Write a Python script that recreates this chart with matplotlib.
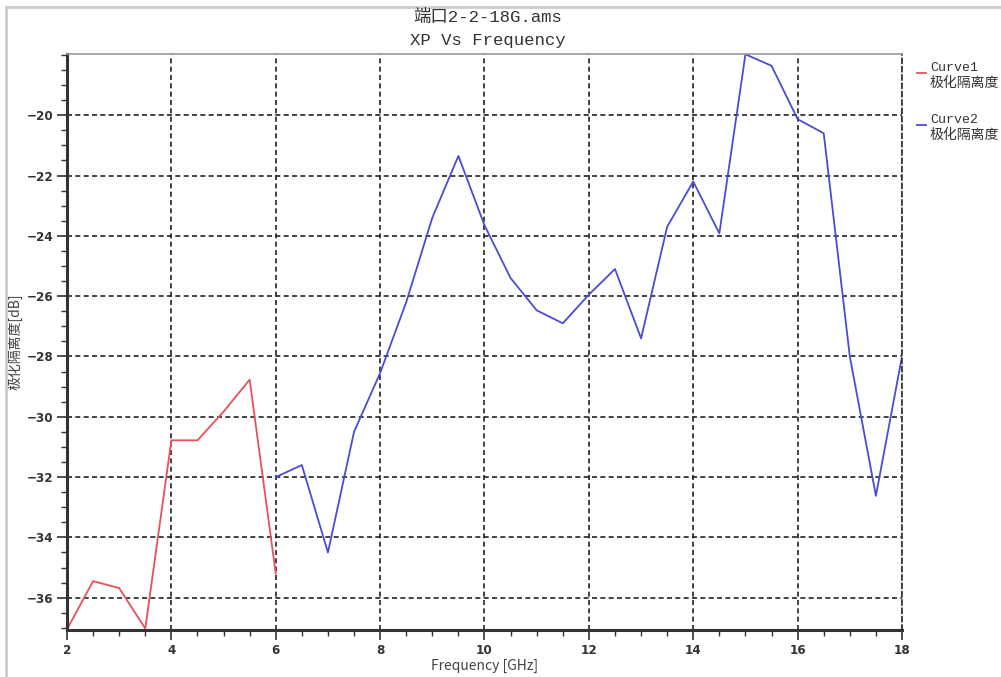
import numpy as np
import matplotlib.pyplot as plt
from matplotlib.ticker import MultipleLocator, FixedLocator
from matplotlib.lines import Line2D

# Curve1 / Curve2 data (Frequency GHz vs 极化隔离度 dB)
freq1 = [2.0, 2.5, 3.0, 3.5, 4.0, 4.5, 5.0, 5.5, 6.0]
xp1 = [-37.05, -35.45, -35.68, -37.02, -30.78, -30.78, -29.83, -28.77, -35.2]

freq2 = [6.0, 6.5, 7.0, 7.5, 8.0, 8.5, 9.0, 9.5, 10.0, 10.5, 11.0, 11.5,
         12.0, 12.5, 13.0, 13.5, 14.0, 14.5, 15.0, 15.5, 16.0, 16.5, 17.0,
         17.5, 18.0]
xp2 = [-32.0, -31.6, -34.5, -30.5, -28.55, -26.2, -23.4, -21.35, -23.65,
       -25.4, -26.47, -26.9, -25.95, -25.1, -27.4, -23.7, -22.2, -23.92,
       -17.98, -18.36, -20.13, -20.6, -28.0, -32.62, -28.0]

y_major = [-36, -34, -32, -30, -28, -26, -24, -22, -20]

mono = ['Liberation Mono', 'Noto Sans CJK SC']
cjk = ['Noto Sans CJK SC', 'DejaVu Sans']

fig = plt.figure(figsize=(10.01, 6.77), dpi=100)
ax = fig.add_axes([67/1001, 1-630/677, (902-67)/1001, (630-54)/677])

ax.plot(freq1, xp1, color='#e8505a', lw=1.3, label='Curve1')
ax.plot(freq2, xp2, color='#4b4bd6', lw=1.3, label='Curve2')

ax.set_xlim(2, 18)
ax.set_ylim(-37.07, -17.97)
ax.xaxis.set_major_locator(MultipleLocator(2))
ax.xaxis.set_minor_locator(MultipleLocator(0.5))
ax.yaxis.set_major_locator(FixedLocator(y_major))
ax.yaxis.set_minor_locator(MultipleLocator(0.5))
ax.grid(True, which='major', color='#222222', ls=(0, (3, 2)), lw=1.2)
ax.tick_params(which='major', direction='out', length=7, width=1.2, color='#333333', pad=3)
ax.tick_params(which='minor', direction='out', length=4, width=1.0, color='#333333')
for lab in ax.get_xticklabels() + ax.get_yticklabels():
    lab.set_fontweight('bold')
    lab.set_fontsize(9.5)
    lab.set_family('DejaVu Sans')
    lab.set_fontstretch('condensed')
    lab.set_color('#333333')

ax.spines['left'].set_linewidth(2.2)
ax.spines['bottom'].set_linewidth(2.2)
ax.spines['left'].set_color('#333333')
ax.spines['bottom'].set_color('#333333')
ax.spines['top'].set_color('#999999')
ax.spines['top'].set_linewidth(1.2)
ax.spines['right'].set_color('#333333')
ax.spines['right'].set_linestyle((0, (3, 2)))
ax.spines['right'].set_linewidth(1.2)

ax.set_xlabel('Frequency [GHz]', family=cjk, fontsize=10, color='#444444', va='center')
ax.set_ylabel('极化隔离度[dB]', family=cjk, fontsize=10, color='#444444', va='center')
ax.xaxis.set_label_coords(0.5, -0.063)
ax.yaxis.set_label_coords(-0.063, 0.5)

fig.text(0.487, 1-17/677, '端口2-2-18G.ams', family=mono, fontsize=12.5,
         ha='center', va='center', color='#333333')
fig.text(0.487, 1-41/677, 'XP Vs Frequency', family=mono, fontsize=12.5,
         ha='center', va='center', color='#333333')

# legend on the right, cut off by the figure edge like the original
for i, (col, name) in enumerate([('#e8505a', 'Curve1'), ('#4b4bd6', 'Curve2')]):
    y0 = 1 - (68 + i*52)/677
    fig.add_artist(Line2D([917/1001, 926/1001], [y0 - 5/677, y0 - 5/677],
                          color=col, lw=1.3, transform=fig.transFigure))
    fig.text(930/1001, y0, name, family=mono, fontsize=9.5, va='center', color='#333333')
    fig.text(930/1001, y0 - 15/677, '极化隔离度', family=cjk, fontsize=10,
             va='center', color='#333333')

# light grey screenshot frame
fig.add_artist(Line2D([6/1001, 6/1001], [0, 1-7/677], color='#cccccc', lw=2,
                      transform=fig.transFigure))
fig.add_artist(Line2D([6/1001, 1], [1-7/677, 1-7/677], color='#cccccc', lw=2,
                      transform=fig.transFigure))

fig.savefig('out.png', dpi=100)
